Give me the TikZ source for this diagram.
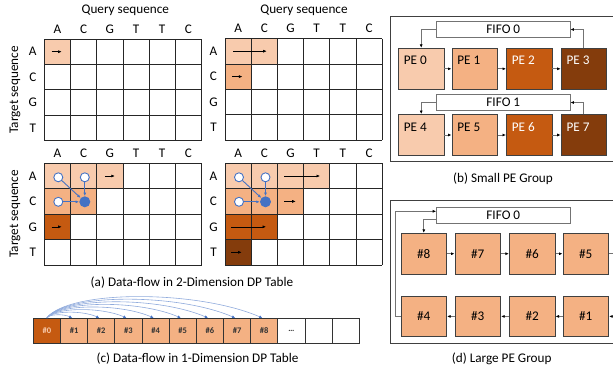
\documentclass[tikz,border=0pt]{standalone}
\usepackage{fontspec}
\setmainfont{Carlito}
\usetikzlibrary{arrows.meta}
\definecolor{pka}{HTML}{F8CBAD}
\definecolor{pkb}{HTML}{F4B183}
\definecolor{pkc}{HTML}{C55A11}
\definecolor{pkd}{HTML}{843C0C}
\definecolor{blu}{HTML}{4472C4}
\definecolor{lblu}{HTML}{8FAADC}
\newcommand\dpgridlines{%
  \foreach \i in {0,...,6}{\draw[gl] (\i*26.2,0) -- (\i*26.2,101.6);}
  \foreach \j in {0,...,4}{\draw[gl] (0,\j*25.4) -- (157.2,\j*25.4);}
  \foreach \l [count=\i from 0] in {A,C,G,T,T,C}{\node[txt] (cl\i) at (\i*26.2+13.1,-10) {\l};}
  \foreach \l [count=\j from 0] in {A,C,G,T}{\node[txt] (rl\j) at (-11.5,\j*25.4+12.7) {\l};}
}
\newcommand\cellfill[3]{\fill[#1] (#3*26.2,#2*25.4) rectangle ++(26.2,25.4);}
\begin{document}
\begin{tikzpicture}[x=1pt,y=-1pt,
  font=\fontsize{13.2}{15}\selectfont,
  txt/.style={inner sep=0pt},
  gl/.style={draw=black!85,line width=0.8pt},
  sa/.style={draw=black,line width=0.6pt,-{Latex[length=3.5pt,width=3pt]}},
  ga/.style={draw=black!55,line width=0.9pt,-{Latex[length=3.5pt,width=3pt,black]}},
  oc/.style={circle,draw=blu,fill=white,line width=0.9pt,minimum size=9pt,inner sep=0pt},
  fc/.style={circle,draw=blu,fill=blu,line width=0.9pt,minimum size=10pt,inner sep=0pt},
  ba/.style={draw=blu,line width=0.9pt,-{Latex[length=3.5pt,width=3pt]},shorten >=0.3pt},
  pebox/.style={draw=black!75,line width=0.9pt,minimum width=45.5pt,minimum height=41pt,inner sep=0pt},
  fifo/.style={draw=black!55,line width=0.9pt,fill=white,minimum width=133.3pt,minimum height=15.6pt,inner sep=0pt},
  frame/.style={draw=black!75,line width=0.9pt},
  onecell/.style={draw=black!80,line width=0.8pt,minimum width=27.17pt,minimum height=25pt,inner sep=0pt,font=\fontsize{8.5}{9}\selectfont\bfseries},
  arcline/.style={draw=lblu,line width=0.6pt,-{Latex[length=3pt,width=3pt,blu]}}
]
\useasboundingbox (0,0) rectangle (613,370);
\clip (0,0) rectangle (613,370);

% ---------- grid 1 ----------
\begin{scope}[shift={(44.3,39)}]
  \cellfill{pka}{0}{0}
  \dpgridlines
  \node[txt] (qs1) at (81,-29) {Query sequence};
  \coordinate (g1a) at (7.4,12.7); \coordinate (g1b) at (17.4,12.7);
  \draw[sa] (g1a) -- (g1b);
\end{scope}
\node[txt,rotate=90] (ts1) at (15,90) {Target sequence};

% ---------- grid 2 ----------
\begin{scope}[shift={(225,38.5)}]
  \cellfill{pka}{0}{0}\cellfill{pka}{0}{1}
  \cellfill{pkb}{1}{0}
  \dpgridlines
  \node[txt] (qs2) at (79,-28.5) {Query sequence};
  \coordinate (g2a) at (8,12.7); \coordinate (g2b) at (41.7,12.7);
  \draw[sa] (g2a) -- (g2b);
  \coordinate (g2c) at (7.4,38.1); \coordinate (g2d) at (17.4,38.1);
  \draw[sa] (g2c) -- (g2d);
\end{scope}

% ---------- grid 3 ----------
\begin{scope}[shift={(44.3,163.3)}]
  \cellfill{pka}{0}{0}\cellfill{pka}{0}{1}\cellfill{pka}{0}{2}
  \cellfill{pkb}{1}{0}\cellfill{pkb}{1}{1}
  \cellfill{pkc}{2}{0}
  \dpgridlines
  \coordinate (g3a) at (60.5,12.7); \coordinate (g3b) at (70.5,12.7);
  \draw[sa] (g3a) -- (g3b);
  \coordinate (g3c) at (7.4,63.5); \coordinate (g3d) at (17.4,63.5);
  \draw[sa] (g3c) -- (g3d);
  \node[oc] (o3a) at (14,14) {};
  \node[oc] (o3b) at (40.5,14) {};
  \node[oc] (o3c) at (14,38.5) {};
  \node[fc] (f3) at (40.5,38.5) {};
  \draw[ba] (o3a) -- (f3);
  \draw[ba] (o3b) -- (f3);
  \draw[ba] (o3c) -- (f3);
\end{scope}
\node[txt,rotate=90] (ts3) at (15,214) {Target sequence};

% ---------- grid 4 ----------
\begin{scope}[shift={(225,163.3)}]
  \cellfill{pka}{0}{0}\cellfill{pka}{0}{1}\cellfill{pka}{0}{2}\cellfill{pka}{0}{3}
  \cellfill{pkb}{1}{0}\cellfill{pkb}{1}{1}\cellfill{pkb}{1}{2}
  \cellfill{pkc}{2}{0}\cellfill{pkc}{2}{1}
  \cellfill{pkd}{3}{0}
  \dpgridlines
  \coordinate (g4a) at (59,12.7); \coordinate (g4b) at (95,12.7);
  \draw[sa] (g4a) -- (g4b);
  \coordinate (g4c) at (59,38.1); \coordinate (g4d) at (70.7,38.1);
  \draw[sa] (g4c) -- (g4d);
  \coordinate (g4e) at (6,63.5); \coordinate (g4f) at (41,63.5);
  \draw[sa] (g4e) -- (g4f);
  \coordinate (g4g) at (6,89); \coordinate (g4h) at (16.7,89);
  \draw[sa] (g4g) -- (g4h);
  \node[oc] (o4a) at (14,14) {};
  \node[oc] (o4b) at (40.5,14) {};
  \node[oc] (o4c) at (14,38.5) {};
  \node[fc] (f4) at (40.5,38.5) {};
  \draw[ba] (o4a) -- (f4);
  \draw[ba] (o4b) -- (f4);
  \draw[ba] (o4c) -- (f4);
\end{scope}

\node[txt] (capa) at (192,283) {(a) Data-flow in 2-Dimension DP Table};

% ---------- panel b ----------
\draw[frame] (390.7,16) rectangle (640,161.7);
\foreach \n/\x/\y/\c/\tc in {0/421.2/68.8/pka/black,1/474.7/68.8/pkb/black,2/529.2/68.8/pkc/white,3/583.9/68.8/pkd/white,
                          4/421.2/135/pka/black,5/474.7/135/pkb/black,6/529.2/135/pkc/white,7/583.9/135/pkd/white}{
  \node[pebox,fill=\c] (pe\n) at (\x,\y) {};
  \node[txt,anchor=base west,text=\tc] (pet\n) at ([shift={(5.7,17)}]pe\n.north west) {PE \n};
}
\node[fifo] (fifoA) at (503.3,29.5) {FIFO 0};
\node[fifo] (fifoB) at (503.3,102.5) {FIFO 1};
\draw[ga] (pe0) -- (pe1);
\draw[ga] (pe1) -- (pe2);
\draw[ga] (pe2) -- (pe3);
\draw[ga] (pe4) -- (pe5);
\draw[ga] (pe5) -- (pe6);
\draw[ga] (pe6) -- (pe7);
\draw[ga] (pe3.north) |- (fifoA.east);
\draw[ga] (fifoA.west) -| (pe0.north);
\draw[ga] (pe7.north) |- (fifoB.east);
\draw[ga] (fifoB.west) -| (pe4.north);
\node[txt] (capb) at (503,179) {(b) Small PE Group};

% ---------- panel d ----------
\draw[frame] (390.7,200.7) rectangle (640,343.3);
\foreach \n/\x/\y in {8/423.8/253.7,7/477.8/253.7,6/532.2/253.7,5/585.8/253.7,
                     4/423.8/316.4,3/477.8/316.4,2/532.2/316.4,1/585.8/316.4}{
  \node[pebox,fill=pkb,minimum width=45.7pt,minimum height=40.7pt] (n\n) at (\x,\y) {\#\n};
}
\node[fifo,minimum height=16pt] (fifoD) at (503.3,215.3) {FIFO 0};
\draw[ga] (n8) -- (n7);
\draw[ga] (n7) -- (n6);
\draw[ga] (n6) -- (n5);
\draw[ga] (n1) -- (n2);
\draw[ga] (n2) -- (n3);
\draw[ga] (n3) -- (n4);
\coordinate (rturn) at (625,253.7);
\draw[ga] (n5.east) -- (rturn) |- (n1.east);
\coordinate (lturn) at (395.7,316.4);
\draw[ga] (n4.west) -- (lturn) |- ([yshift=4pt]fifoD.west);
\draw[ga] ([yshift=-4pt]fifoD.west) -| (n8.north);
\node[txt] (capd) at (501.7,359) {(d) Large PE Group};

% ---------- panel c ----------
\foreach \i in {0,...,11}{
  \pgfmathsetmacro\cx{33.3+27.17*(\i+0.5)}
  \ifnum\i=0
    \node[onecell,fill=pkc,text=pka] (c\i) at (\cx,330.8) {\#0};
  \else\ifnum\i<9
    \node[onecell,fill=pkb,text=black!80] (c\i) at (\cx,330.8) {\#\i};
  \else\ifnum\i=9
    \node[onecell,fill=white,text=black!80] (c\i) at (\cx,330.8) {…};
  \else
    \node[onecell,fill=white] (c\i) at (\cx,330.8) {};
  \fi\fi\fi
}
\foreach \k in {1,...,8}{
  \pgfmathsetmacro\dd{27.17*\k}
  \pgfmathsetmacro\hh{(3+(\k-1)*2.6)/0.75}
  \draw[arcline] (c0.north) .. controls +(0.1*\dd,-\hh) and +(-0.3*\dd,-\hh) .. ([xshift=-2pt]c\k.north);
}
\node[txt] (capc) at (197.5,359) {(c) Data-flow in 1-Dimension DP Table};
\end{tikzpicture}
\end{document}
